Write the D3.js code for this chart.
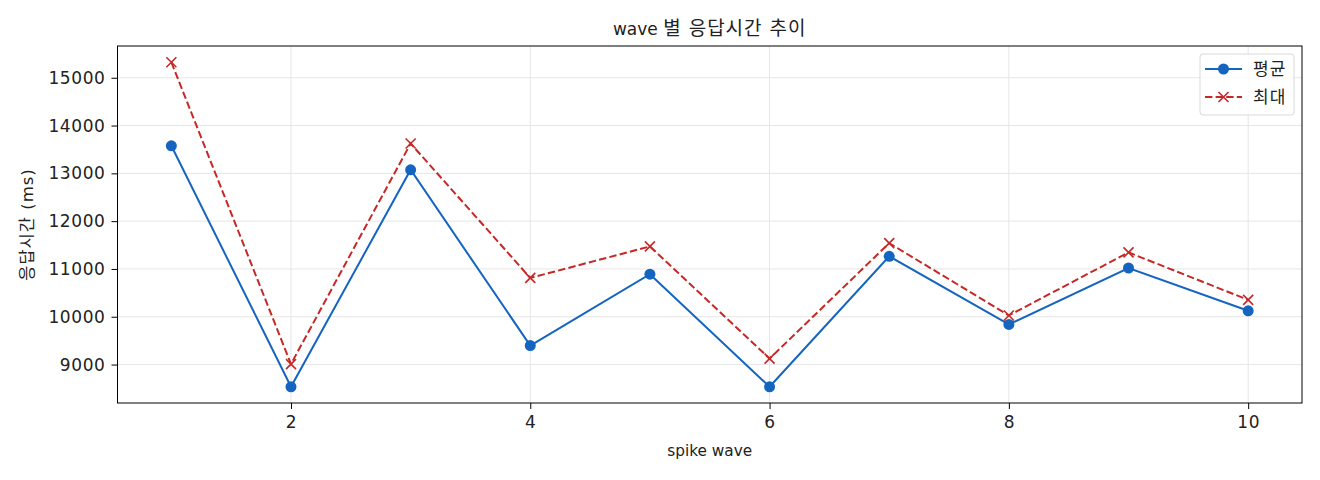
<!DOCTYPE html>
<html><head><meta charset="utf-8">
<script src="https://cdn.jsdelivr.net/npm/d3@7"></script>
<style>
html,body{margin:0;padding:0;background:#fff;}
svg text{font-family:"DejaVu Sans","Noto Sans CJK KR",sans-serif;fill:#222;}
</style></head>
<body><svg id="chart" width="1320" height="480"></svg>
<script>
const waves = [1,2,3,4,5,6,7,8,9,10];
const avgValues = [13577,8535,13075,9396,10890,8535,11265,9840,11020,10125];
const maxValues = [15325,9010,13625,10812,11471,9125,11540,10027,11346,10354];
const xTicks = [2,4,6,8,10];
const yTicks = [9000,10000,11000,12000,13000,14000,15000];
const seriesNames = ["평균","최대"];
const titleLatin = "wave";
const titleKorean = "별 응답시간 추이";
const xLabel = "spike wave";
const yLabel = "응답시간 (ms)";

const W=1320,H=480;
const m={left:117.5,right:1302,top:46,bottom:403};
const svg=d3.select("#chart");
const allVals=avgValues.concat(maxValues);
const yMin=d3.min(allVals), yMax=d3.max(allVals);
const yPad=(yMax-yMin)*0.05;
const x=d3.scaleLinear().domain([1-0.45,10+0.45]).range([m.left,m.right]);
const y=d3.scaleLinear().domain([yMin-yPad,yMax+yPad]).range([m.bottom,m.top]);

// grid
const g=svg.append("g");
g.selectAll(".gx").data(xTicks).enter().append("line")
 .attr("x1",d=>x(d)).attr("x2",d=>x(d)).attr("y1",m.top).attr("y2",m.bottom)
 .attr("stroke","#e6e6e6").attr("stroke-width",1);
g.selectAll(".gy").data(yTicks).enter().append("line")
 .attr("y1",d=>y(d)).attr("y2",d=>y(d)).attr("x1",m.left).attr("x2",m.right)
 .attr("stroke","#e6e6e6").attr("stroke-width",1);

// axes
const xAxis=d3.axisBottom(x).tickValues(xTicks).tickSize(6).tickPadding(7).tickFormat(d3.format("d"));
const yAxis=d3.axisLeft(y).tickValues(yTicks).tickSize(6).tickPadding(6).tickFormat(d3.format("d"));
const gx=svg.append("g").attr("transform",`translate(0,${m.bottom})`).call(xAxis);
const gy=svg.append("g").attr("transform",`translate(${m.left},0)`).call(yAxis);
[gx,gy].forEach(a=>{
  a.select(".domain").remove();
  a.selectAll(".tick line").attr("stroke","#000").attr("stroke-width",1);
  a.selectAll(".tick text").style("font-size","17px").style("letter-spacing","0.6px")
   .style("font-family","'DejaVu Sans',sans-serif").attr("fill","#2a2a2a");
});

// lines
const lineGen=d3.line().x((d,i)=>x(waves[i])).y(d=>y(d));
svg.append("path").datum(avgValues).attr("d",lineGen).attr("fill","none")
 .attr("stroke","#1565C0").attr("stroke-width",2);
svg.append("path").datum(maxValues).attr("d",lineGen).attr("fill","none")
 .attr("stroke","#C62828").attr("stroke-width",2).attr("stroke-dasharray","7.4,3.2");

svg.selectAll(".dot").data(avgValues).enter().append("circle")
 .attr("cx",(d,i)=>x(waves[i])).attr("cy",d=>y(d)).attr("r",5.5).attr("fill","#1565C0");

const xm=5;
const crossPath=(cx,cy)=>`M${cx-xm},${cy-xm}L${cx+xm},${cy+xm}M${cx-xm},${cy+xm}L${cx+xm},${cy-xm}`;
svg.selectAll(".xm").data(maxValues).enter().append("path")
 .attr("d",(d,i)=>crossPath(x(waves[i]),y(d))).attr("stroke","#C62828").attr("stroke-width",1.6).attr("fill","none");

// frame
svg.append("rect").attr("x",m.left).attr("y",m.top).attr("width",m.right-m.left).attr("height",m.bottom-m.top)
 .attr("fill","none").attr("stroke","#000").attr("stroke-width",1);

// title & labels
const t=svg.append("text").attr("x",(m.left+m.right)/2).attr("y",29).attr("dy","0.35em").attr("text-anchor","middle");
t.append("tspan").style("font-size","17px").text(titleLatin+" ");
t.append("tspan").style("font-size","19px").style("letter-spacing","1px").text(titleKorean);
svg.append("text").attr("x",(m.left+m.right)/2).attr("y",451).attr("dy","0.35em").attr("text-anchor","middle")
 .style("font-size","15.3px").text(xLabel);
svg.append("text").attr("transform",`translate(27,${(m.top+m.bottom)/2}) rotate(-90)`).attr("dy","0.35em").attr("text-anchor","middle")
 .style("font-size","16.5px").style("letter-spacing","1px").text(yLabel);

// legend
const lg=svg.append("g");
lg.append("rect").attr("x",1200).attr("y",54).attr("width",94).attr("height",61).attr("rx",3)
 .attr("fill","#fff").attr("fill-opacity",0.8).attr("stroke","#d9d9d9").attr("stroke-width",1);
const ly=[69,97];
lg.append("line").attr("x1",1205).attr("x2",1242).attr("y1",ly[0]).attr("y2",ly[0]).attr("stroke","#1565C0").attr("stroke-width",2);
lg.append("circle").attr("cx",1223.5).attr("cy",ly[0]).attr("r",5.5).attr("fill","#1565C0");
lg.append("line").attr("x1",1205).attr("x2",1242).attr("y1",ly[1]).attr("y2",ly[1]).attr("stroke","#C62828").attr("stroke-width",2).attr("stroke-dasharray","7.4,3.2");
lg.append("path").attr("d",crossPath(1223.5,ly[1])).attr("stroke","#C62828").attr("stroke-width",1.6);
seriesNames.forEach((s,i)=>{
  lg.append("text").attr("x",1253).attr("y",ly[i]).attr("dy","0.35em").style("font-size","17px").style("letter-spacing","1px").text(s);
});
</script></body></html>
